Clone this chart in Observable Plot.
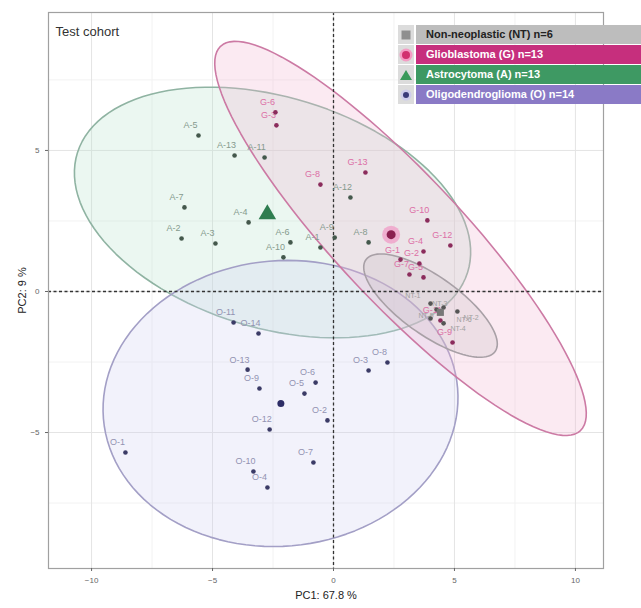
<!DOCTYPE html>
<html>
<head>
<meta charset="utf-8">
<script src="https://cdn.jsdelivr.net/npm/d3@7"></script>
<script src="https://cdn.jsdelivr.net/npm/@observablehq/plot@0.6"></script>
<style>
  html, body { margin: 0; padding: 0; background: #fff; }
  #wrap { position: relative; width: 641px; height: 608px; overflow: hidden; font-family: "Liberation Sans", Arial, sans-serif; }
  #legend { position: absolute; left: 398px; top: 25px; width: 250px; }
  .row { display: flex; height: 19px; margin-bottom: 1px; }
  .sym { width: 16px; background: #dcdcdc; display: flex; align-items: center; justify-content: center; margin-right: 2px; }
  .lab { flex: 1; font-weight: bold; font-size: 11px; line-height: 19px; padding-left: 10px; white-space: nowrap; }
</style>
</head>
<body>
<div id="wrap">
  <div id="chart"></div>
  <div id="legend"></div>
</div>
<script>
// ---------- data (PC1, PC2 scores) ----------
const gIds = ["G-6","G-3","G-8","G-13","G-10","G-1","G-4","G-12","G-2","G-7","G-5","G-9","G-11"];
const gPC1 = [-2.40,-2.36,-0.54,1.32,3.88,2.77,3.72,4.83,3.55,3.14,3.72,4.92,4.42];
const gPC2 = [6.35,5.89,3.79,4.22,2.52,1.13,1.42,1.63,0.99,0.60,0.50,-1.81,-1.03];

const aIds = ["A-5","A-13","A-11","A-7","A-2","A-3","A-4","A-6","A-10","A-8","A-12","A-9","A-1"];
const aPC1 = [-5.58,-4.09,-2.85,-6.16,-6.28,-4.88,-3.51,-1.78,-2.07,1.45,0.70,0.05,-0.54];
const aPC2 = [5.53,4.82,4.75,2.98,1.88,1.70,2.45,1.74,1.21,1.74,3.33,1.91,1.56];

const oIds = ["O-1","O-14","O-11","O-13","O-9","O-5","O-12","O-10","O-4","O-6","O-3","O-2","O-7","O-8"];
const oPC1 = [-8.60,-3.10,-4.13,-3.55,-3.06,-1.20,-2.64,-3.31,-2.73,-0.74,1.45,-0.25,-0.83,2.23];
const oPC2 = [-5.71,-1.49,-1.10,-2.77,-3.44,-3.62,-4.89,-6.38,-6.95,-3.23,-2.80,-4.57,-6.06,-2.52];

const ntIds = ["NT-1","NT-2","NT-3","NT-4","NT-5","NT-6"];
const ntPC1 = [4.01,4.55,5.12,4.01,4.55,4.26];
const ntPC2 = [-0.43,-0.57,-0.71,-0.96,-1.13,-0.64];

// ellipse parameters (centre and conjugate semi-axes, data units)
const ellGroups = ["A","O","G","NT"];
const ellCx = [-2.52,-2.19,2.77,4.01];
const ellCy = [2.80,-3.97,1.88,-0.50];
const ellUx = [8.06,7.23,7.44,2.69];
const ellUy = [-2.13,1.06,-6.81,-1.60];
const ellVx = [-1.45,1.24,1.90,-0.62];
const ellVy = [-3.90,-4.96,1.56,-0.89];

// legend
const legendGroups = ["NT","G","A","O"];
const legendLabels = ["Non-neoplastic (NT) n=6","Glioblastoma (G) n=13","Astrocytoma (A) n=13","Oligodendroglioma (O) n=14"];

const xTicks = [-10,-5,0,5,10];
const yTicks = [-5,0,5];
const xMinor = [-7.5,-2.5,2.5,7.5];
const yMinor = [-7.5,-2.5,2.5,7.5];

// ---------- styles ----------
const dotColor = {G:"#8b2c5c", A:"#44584c", O:"#3b3b66", NT:"#555555"};
const labColor = {G:"#dc6fa6", A:"#869a8e", O:"#9292b2", NT:"#a0a0a0"};
const ellFill = {G:"#f2b3d1", A:"#b7e2cd", O:"#d2d0f0", NT:"#c8c0c6"};
const ellStroke = {G:"#cc7aa4", A:"#8fb3a2", O:"#a39fc6", NT:"#a8a0a6"};
const barColor = {NT:"#bdbdbd", G:"#c62f7d", A:"#3e9963", O:"#8a7ac6"};
const barText = {NT:"#222", G:"#fff", A:"#fff", O:"#fff"};

function build(ids, xs, ys, g) { return ids.map((id, i) => ({id, x: xs[i], y: ys[i], g, i})); }
const points = [
  ...build(gIds, gPC1, gPC2, "G"),
  ...build(aIds, aPC1, aPC2, "A"),
  ...build(oIds, oPC1, oPC2, "O"),
  ...build(ntIds, ntPC1, ntPC2, "NT")
];
const tumour = points.filter(d => d.g !== "NT");
const ntLeft = points.filter(d => d.g === "NT" && d.i % 2 === 0);
const ntRight = points.filter(d => d.g === "NT" && d.i % 2 === 1);
const centroids = ["G","A","O","NT"].map(g => {
  const p = points.filter(d => d.g === g);
  return {g, x: d3.mean(p, d => d.x), y: d3.mean(p, d => d.y)};
});
const ellPts = [];
ellGroups.forEach((g, k) => {
  d3.range(0, 361, 3).forEach(deg => {
    const t = deg * Math.PI / 180;
    ellPts.push({g, x: ellCx[k] + ellUx[k]*Math.cos(t) + ellVx[k]*Math.sin(t),
                    y: ellCy[k] + ellUy[k]*Math.cos(t) + ellVy[k]*Math.sin(t)});
  });
});

const chart = Plot.plot({
  width: 641, height: 608,
  marginLeft: 48, marginRight: 38, marginTop: 12, marginBottom: 40,
  x: {domain: [-11.78, 11.16]},
  y: {domain: [-9.82, 9.89]},
  style: {fontFamily: "Liberation Sans, Arial, sans-serif", background: "#fff"},
  marks: [
    Plot.gridX(xMinor, {stroke: "#f2f2f2", strokeOpacity: 1}),
    Plot.gridY(yMinor, {stroke: "#f2f2f2", strokeOpacity: 1}),
    Plot.gridX(xTicks, {stroke: "#e4e4e4", strokeOpacity: 1}),
    Plot.gridY(yTicks, {stroke: "#e4e4e4", strokeOpacity: 1}),
    ...ellGroups.map(g => Plot.line(ellPts.filter(d => d.g === g), {
      x: "x", y: "y", fill: ellFill[g], fillOpacity: 0.28, stroke: ellStroke[g], strokeWidth: 1.6
    })),
    Plot.ruleX([0], {stroke: "#333", strokeDasharray: "3,2.5", strokeWidth: 1.3}),
    Plot.ruleY([0], {stroke: "#333", strokeDasharray: "3,2.5", strokeWidth: 1.3}),
    Plot.text(tumour, {x: "x", y: "y", text: "id", dx: -8, dy: -10, fontSize: 9,
      fill: d => labColor[d.g]}),
    Plot.text(ntLeft, {x: "x", y: "y", text: "id", dx: -10, dy: -8, textAnchor: "end", fontSize: 7,
      fill: labColor.NT}),
    Plot.text(ntRight, {x: "x", y: "y", text: "id", dx: 20, dy: 10, textAnchor: "start", fontSize: 7,
      fill: labColor.NT}),
    Plot.dot(points, {x: "x", y: "y", r: 2.3, fill: d => dotColor[d.g], stroke: "none"}),
    // centroids
    Plot.dot(centroids.filter(d => d.g === "G"), {x: "x", y: "y", r: 9, fill: "#f0a0c8", fillOpacity: 0.8}),
    Plot.dot(centroids.filter(d => d.g === "G"), {x: "x", y: "y", r: 4.5, fill: "#8b2050"}),
    Plot.dot(centroids.filter(d => d.g === "A"), {x: "x", y: "y", r: 6.5, symbol: "triangle", fill: "#2f7d50"}),
    Plot.dot(centroids.filter(d => d.g === "O"), {x: "x", y: "y", r: 3.5, fill: "#2d2d66"}),
    Plot.dot(centroids.filter(d => d.g === "NT"), {x: "x", y: "y", r: 4, symbol: "square", fill: "#777"}),
    Plot.frame({stroke: "#a0a0a0", strokeWidth: 1.2}),
    Plot.axisX(xTicks, {tickSize: 3, fontSize: 8, color: "#666", label: "PC1: 67.8 %",
      labelAnchor: "center", labelArrow: "none", labelOffset: 30}),
    Plot.axisY(yTicks, {tickSize: 3, fontSize: 8, color: "#666", label: "PC2: 9 %",
      labelAnchor: "center", labelArrow: "none", labelOffset: 30}),
    Plot.text(["Test cohort"], {frameAnchor: "top-left", dx: 7, dy: 14, fontSize: 13, fill: "#333"})
  ]
});
chart.querySelectorAll("g[aria-label='x-axis label'] text, g[aria-label='y-axis label'] text").forEach(t => {
  t.setAttribute("font-size", "11"); t.setAttribute("fill", "#222");
});
document.getElementById("chart").appendChild(chart);

// legend
const symSvg = {
  NT: '<svg width="12" height="12"><rect x="1.5" y="1.5" width="9" height="9" fill="#8f8f8f"/></svg>',
  G: '<svg width="14" height="14"><circle cx="7" cy="7" r="6.5" fill="#f49cc4"/><circle cx="7" cy="7" r="4" fill="#d2306f"/></svg>',
  A: '<svg width="14" height="12"><polygon points="7,1 13,11 1,11" fill="#3a9a5a"/></svg>',
  O: '<svg width="14" height="14"><circle cx="7" cy="7" r="5.5" fill="#cfcdec"/><circle cx="7" cy="7" r="3" fill="#3b3b7a"/></svg>'
};
const leg = d3.select("#legend");
legendGroups.forEach((g, i) => {
  const row = leg.append("div").attr("class", "row");
  row.append("div").attr("class", "sym").html(symSvg[g]);
  row.append("div").attr("class", "lab")
    .style("background", barColor[g]).style("color", barText[g])
    .text(legendLabels[i]);
});
</script>
</body>
</html>
